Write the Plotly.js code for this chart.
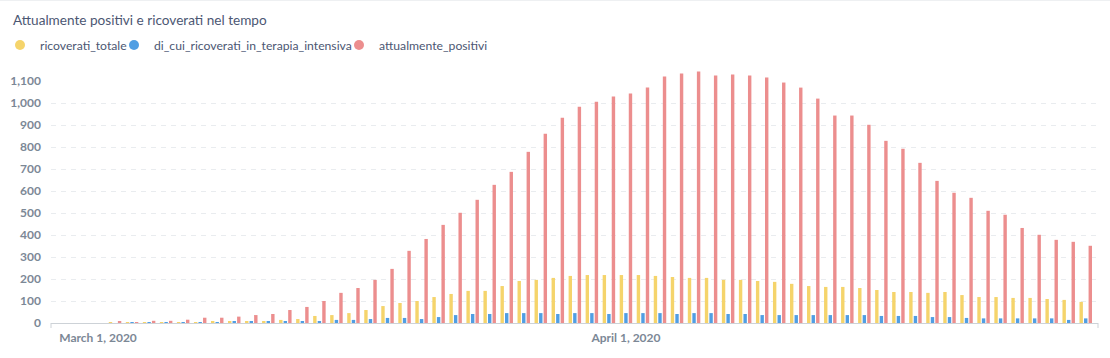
<!DOCTYPE html>
<html>
<head>
<meta charset="utf-8">
<script src="https://cdn.plot.ly/plotly-3.0.1.min.js"></script>
<style>
html,body{margin:0;padding:0;background:#ffffff;}
#chart{width:1110px;height:358px;}
</style>
</head>
<body>
<div id="chart"></div>
<script>
// ---- Data ----
const dates = [
  '2020-02-28','2020-02-29',
  '2020-03-01','2020-03-02','2020-03-03','2020-03-04','2020-03-05','2020-03-06','2020-03-07','2020-03-08','2020-03-09','2020-03-10',
  '2020-03-11','2020-03-12','2020-03-13','2020-03-14','2020-03-15','2020-03-16','2020-03-17','2020-03-18','2020-03-19','2020-03-20',
  '2020-03-21','2020-03-22','2020-03-23','2020-03-24','2020-03-25','2020-03-26','2020-03-27','2020-03-28','2020-03-29','2020-03-30','2020-03-31',
  '2020-04-01','2020-04-02','2020-04-03','2020-04-04','2020-04-05','2020-04-06','2020-04-07','2020-04-08','2020-04-09','2020-04-10',
  '2020-04-11','2020-04-12','2020-04-13','2020-04-14','2020-04-15','2020-04-16','2020-04-17','2020-04-18','2020-04-19','2020-04-20',
  '2020-04-21','2020-04-22','2020-04-23','2020-04-24','2020-04-25','2020-04-26','2020-04-27','2020-04-28'
];

const ricoverati_totale = [
  0, 0,
  0, 1, 2, 3, 3, 4, 4, 5, 7, 9,
  9, 14, 18, 32, 36, 45, 59, 77, 91, 100,
  118, 132, 146, 146, 168, 191, 196, 205, 214, 218, 218,
  218, 218, 214, 209, 205, 205, 196, 196, 191, 187,
  178, 168, 164, 164, 159, 150, 141, 141, 137, 141,
  127, 118, 118, 114, 114, 109, 105, 96
];

const di_cui_ricoverati_in_terapia_intensiva = [
  0, 0,
  0, 0, 1, 2, 3, 3, 3, 4, 5, 5,
  5, 9, 9, 9, 14, 14, 18, 23, 23, 18,
  27, 36, 41, 41, 45, 45, 45, 41, 45, 45, 41,
  45, 45, 45, 41, 45, 45, 41, 41, 36, 36,
  36, 36, 36, 36, 36, 32, 32, 32, 27, 27,
  23, 21, 21, 21, 21, 21, 14, 21
];

const attualmente_positivi = [
  0, 0,
  0, 6, 3, 10, 10, 15, 24, 24, 29, 36,
  41, 59, 73, 100, 137, 159, 196, 246, 328, 382,
  446, 501, 560, 628, 687, 778, 860, 933, 983, 1006, 1029,
  1043, 1070, 1120, 1134, 1143, 1125, 1129, 1125, 1116, 1093,
  1070, 1020, 943, 943, 901, 828, 792, 728, 646, 592,
  569, 510, 492, 432, 401, 378, 369, 351
];

const seriesNames = ['ricoverati_totale', 'di_cui_ricoverati_in_terapia_intensiva', 'attualmente_positivi'];
const seriesColors = ['#F5D46B', '#509EE3', '#EC8E8E'];
const yTickValues = [0, 100, 200, 300, 400, 500, 600, 700, 800, 900, 1000];
const yTopTick = [1100];
const xTickValues = ['2020-03-01', '2020-04-01'];
const xTickLabels = ['March 1, 2020', 'April 1, 2020'];

// ---- Styling ----
const tickFont = {family: 'Lato, sans-serif', size: 12, color: '#7C8896', weight: 'bold'};
const textColor = '#4C5773';

const seriesValues = [ricoverati_totale, di_cui_ricoverati_in_terapia_intensiva, attualmente_positivi];

const traces = [];
seriesValues.forEach((vals, i) => {
  traces.push({
    type: 'bar',
    x: dates,
    y: vals,
    name: seriesNames[i],
    marker: {color: seriesColors[i], line: {width: 0}},
    showlegend: false,
    hovertemplate: '%{x|%B %-d, %Y}<br>' + seriesNames[i] + ': %{y}<extra></extra>'
  });
});
// legend entries (circle markers), one legend each so each can be positioned
const legendIds = ['legend', 'legend2', 'legend3'];
seriesNames.forEach((nm, i) => {
  traces.push({
    type: 'scatter',
    mode: 'markers',
    x: [null],
    y: [null],
    name: nm,
    legend: legendIds[i],
    marker: {color: seriesColors[i], size: 10, symbol: 'circle'},
    showlegend: true,
    hoverinfo: 'skip'
  });
});
// empty helper trace so the overlay axis (top "1,100" label, no grid line) is drawn
traces.push({
  type: 'scatter', mode: 'markers', x: [null], y: [null],
  yaxis: 'y2', showlegend: false, hoverinfo: 'skip'
});

const W = 1110, H = 358;
const legendBase = {
  orientation: 'h',
  xref: 'container', yref: 'container',
  xanchor: 'left', yanchor: 'middle',
  y: 1 - 45 / H,
  bgcolor: 'rgba(0,0,0,0)',
  borderwidth: 0,
  font: {family: 'Lato, sans-serif', size: 12.2, color: textColor},
  itemclick: false, itemdoubleclick: false
};

const layout = {
  width: W, height: H,
  margin: {l: 51, r: 12, t: 70, b: 35, pad: 0},
  paper_bgcolor: '#ffffff',
  plot_bgcolor: '#ffffff',
  font: {family: 'Lato, sans-serif', color: textColor},
  title: {
    text: 'Attualmente positivi e ricoverati nel tempo',
    xref: 'container', yref: 'container',
    x: 13 / W, xanchor: 'left',
    y: 1 - 20 / H, yanchor: 'middle',
    font: {family: 'Lato, sans-serif', size: 13.6, color: textColor}
  },
  barmode: 'group',
  bargap: 0.2,
  bargroupgap: 0.25,
  xaxis: {
    type: 'date',
    range: ['2020-02-27 05:45', '2020-04-28 17:17'],
    tickmode: 'array',
    tickvals: xTickValues,
    ticktext: xTickLabels,
    showgrid: false,
    zeroline: false,
    showline: true,
    linecolor: '#CDD2D7',
    linewidth: 1,
    ticks: '',
    ticklabelstandoff: 4,
    tickfont: tickFont,
    fixedrange: true
  },
  yaxis: {
    range: [0, 1150],
    tickmode: 'array',
    tickvals: yTickValues,
    tickformat: ',',
    showgrid: true,
    gridcolor: '#E9ECEF',
    gridwidth: 1,
    griddash: '5px,5px',
    zeroline: false,
    showline: false,
    ticks: '',
    ticklabelstandoff: 9,
    tickfont: tickFont,
    fixedrange: true
  },
  yaxis2: {
    overlaying: 'y',
    side: 'left',
    anchor: 'x',
    range: [0, 1150],
    tickmode: 'array',
    tickvals: yTopTick,
    tickformat: ',',
    showgrid: false,
    zeroline: false,
    showline: false,
    ticks: '',
    ticklabelstandoff: 9,
    tickfont: tickFont,
    fixedrange: true
  },
  legend: Object.assign({}, legendBase, {x: 0}),
  legend2: Object.assign({}, legendBase, {x: 114 / W}),
  legend3: Object.assign({}, legendBase, {x: 339 / W}),
  shapes: [
    {type: 'line', xref: 'paper', yref: 'paper', x0: 0, x1: 0, y0: 0, y1: -5 / 253, line: {color: '#CDD2D7', width: 1}},
    {type: 'line', xref: 'paper', yref: 'paper', x0: 1, x1: 1, y0: 0, y1: -5 / 253, line: {color: '#CDD2D7', width: 1}},
    {type: 'line', xref: 'paper', yref: 'paper', x0: -51 / 1047, x1: (W - 51) / 1047, y0: 322.5 / 253, y1: 322.5 / 253, line: {color: '#EEF0F2', width: 1}}
  ],
  showlegend: true,
  hovermode: 'closest'
};

Plotly.newPlot('chart', traces, layout, {displayModeBar: false, responsive: false, staticPlot: false});
</script>
</body>
</html>
